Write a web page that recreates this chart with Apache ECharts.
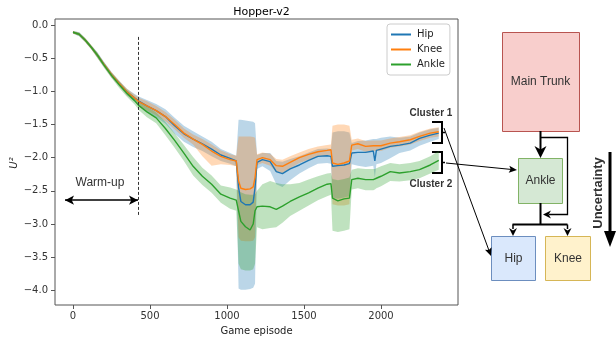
<!DOCTYPE html>
<html><head><meta charset="utf-8">
<script src="https://cdn.jsdelivr.net/npm/echarts@6/dist/echarts.min.js"></script>
<style>html,body{margin:0;padding:0;background:#fff}#c{width:616px;height:343px}</style>
</head><body><div id="c"></div>
<script>
// ---- data ----
const episodes = [0,40,80,120,160,200,250,300,350,400,
  430,480,540,600,660,720,780,840,900,960,
  1020,1060,1075,1090,1120,1150,1170,1182,1195,1230,
  1280,1320,1360,1410,1470,1530,1590,1650,1675,1685,
  1720,1760,1795,1810,1850,1900,1950,1960,1970,2000,
  2060,2120,2190,2250,2320,2375];

const hipMean = [-0.11,-0.14,-0.23,-0.34,-0.46,-0.59,-0.75,-0.88,-1.01,-1.10,
  -1.15,-1.22,-1.29,-1.38,-1.52,-1.64,-1.72,-1.79,-1.87,-1.96,
  -2.01,-2.05,-2.45,-2.66,-2.71,-2.71,-2.67,-2.45,-2.07,-2.03,
  -2.06,-2.21,-2.24,-2.17,-2.11,-2.04,-1.98,-1.97,-1.98,-2.13,
  -2.12,-2.11,-2.09,-1.93,-1.92,-1.92,-1.90,-2.05,-1.89,-1.87,
  -1.83,-1.81,-1.78,-1.71,-1.66,-1.63];
const hipUpper = [-0.09,-0.11,-0.20,-0.31,-0.42,-0.55,-0.71,-0.84,-0.96,-1.04,
  -1.08,-1.13,-1.19,-1.27,-1.40,-1.52,-1.60,-1.68,-1.76,-1.87,
  -1.93,-1.97,-1.43,-1.43,-1.44,-1.45,-1.46,-1.48,-1.96,-1.93,
  -1.93,-2.05,-2.06,-2.02,-1.98,-1.92,-1.87,-1.86,-1.87,-1.62,
  -1.60,-1.60,-1.62,-1.78,-1.75,-1.74,-1.72,-1.72,-1.72,-1.70,
  -1.68,-1.70,-1.68,-1.62,-1.57,-1.55];
const hipLower = [-0.13,-0.17,-0.26,-0.37,-0.50,-0.63,-0.79,-0.92,-1.06,-1.16,
  -1.22,-1.31,-1.39,-1.49,-1.64,-1.76,-1.84,-1.90,-1.98,-2.05,
  -2.09,-2.13,-3.97,-3.99,-3.99,-3.98,-3.96,-3.90,-2.17,-2.13,
  -2.20,-2.40,-2.44,-2.34,-2.24,-2.16,-2.09,-2.08,-2.09,-2.60,
  -2.62,-2.60,-2.58,-2.10,-2.12,-2.14,-2.12,-2.30,-2.10,-2.08,
  -2.01,-1.93,-1.89,-1.82,-1.76,-1.72];

const kneeMean = [-0.11,-0.14,-0.23,-0.34,-0.46,-0.59,-0.75,-0.88,-1.01,-1.10,
  -1.16,-1.22,-1.29,-1.38,-1.50,-1.63,-1.72,-1.80,-1.90,-1.98,
  -2.03,-2.05,-2.35,-2.46,-2.48,-2.47,-2.44,-2.30,-2.03,-2.00,
  -2.03,-2.12,-2.13,-2.07,-2.00,-1.95,-1.91,-1.89,-1.88,-2.08,
  -2.10,-2.08,-2.05,-1.81,-1.79,-1.83,-1.82,-1.82,-1.82,-1.82,
  -1.78,-1.76,-1.73,-1.68,-1.63,-1.61];
const kneeUpper = [-0.09,-0.12,-0.20,-0.31,-0.43,-0.56,-0.71,-0.84,-0.96,-1.05,
  -1.10,-1.15,-1.22,-1.31,-1.43,-1.56,-1.65,-1.72,-1.80,-1.89,
  -1.95,-1.97,-1.68,-1.68,-1.68,-1.68,-1.69,-1.70,-1.95,-1.92,
  -1.94,-2.02,-2.03,-1.98,-1.92,-1.87,-1.83,-1.81,-1.80,-1.52,
  -1.50,-1.50,-1.52,-1.73,-1.71,-1.75,-1.74,-1.74,-1.74,-1.74,
  -1.71,-1.69,-1.66,-1.61,-1.56,-1.54];
const kneeLower = [-0.13,-0.16,-0.26,-0.37,-0.50,-0.63,-0.79,-0.92,-1.06,-1.15,
  -1.22,-1.29,-1.36,-1.45,-1.57,-1.70,-1.80,-1.98,-2.12,-2.10,
  -2.11,-2.13,-3.20,-3.25,-3.26,-3.26,-3.25,-3.20,-2.11,-2.08,
  -2.12,-2.22,-2.23,-2.16,-2.08,-2.03,-1.99,-1.97,-1.96,-2.70,
  -2.72,-2.72,-2.70,-1.89,-1.87,-1.91,-1.90,-1.90,-1.90,-1.90,
  -1.85,-1.83,-1.80,-1.75,-1.70,-1.68];

const ankleMean = [-0.11,-0.14,-0.23,-0.34,-0.46,-0.60,-0.76,-0.90,-1.03,-1.14,
  -1.22,-1.31,-1.40,-1.56,-1.74,-1.93,-2.13,-2.28,-2.40,-2.55,
  -2.61,-2.64,-2.80,-2.96,-3.04,-3.09,-3.00,-2.80,-2.74,-2.73,
  -2.74,-2.78,-2.73,-2.66,-2.59,-2.53,-2.46,-2.40,-2.39,-2.61,
  -2.65,-2.62,-2.61,-2.33,-2.31,-2.33,-2.33,-2.32,-2.31,-2.28,
  -2.21,-2.23,-2.21,-2.18,-2.11,-2.04];
const ankleUpper = [-0.09,-0.11,-0.20,-0.31,-0.42,-0.56,-0.72,-0.85,-0.98,-1.08,
  -1.15,-1.23,-1.32,-1.46,-1.63,-1.81,-1.99,-2.15,-2.27,-2.42,
  -2.45,-2.48,-2.50,-2.52,-2.55,-2.56,-2.56,-2.55,-2.50,-2.40,
  -2.35,-2.38,-2.40,-2.40,-2.38,-2.33,-2.28,-2.24,-2.23,-2.32,
  -2.34,-2.32,-2.30,-2.18,-2.16,-2.17,-2.17,-2.17,-2.16,-2.13,
  -2.08,-2.10,-2.08,-2.05,-1.98,-1.90];
const ankleLower = [-0.13,-0.17,-0.26,-0.37,-0.50,-0.64,-0.80,-0.95,-1.08,-1.20,
  -1.29,-1.39,-1.48,-1.66,-1.85,-2.05,-2.27,-2.41,-2.53,-2.68,
  -2.77,-2.80,-3.60,-3.68,-3.70,-3.70,-3.68,-3.60,-3.05,-3.08,
  -3.06,-3.05,-2.98,-2.88,-2.80,-2.72,-2.64,-2.58,-2.56,-3.10,
  -3.12,-3.10,-3.08,-2.48,-2.46,-2.49,-2.49,-2.48,-2.46,-2.43,
  -2.35,-2.36,-2.34,-2.31,-2.24,-2.18];

const seriesNames = ['Hip', 'Knee', 'Ankle'];
const xTicks = [0, 500, 1000, 1500, 2000];
const yTicks = [-4, -3.5, -3, -2.5, -2, -1.5, -1, -0.5, 0];
const warmupEnd = 422;          // episode of the dashed warm-up marker
const warmupStart = -52;        // left end of the warm-up arrow
const warmupArrowY = -2.64;
const warmupLineTop = -0.18, warmupLineBottom = -2.89;

// ---- chart ----
const colors = ['#1f77b4', '#ff7f0e', '#2ca02c'];
const means = [hipMean, kneeMean, ankleMean];
const uppers = [hipUpper, kneeUpper, ankleUpper];
const lowers = [hipLower, kneeLower, ankleLower];

const chart = echarts.init(document.getElementById('c'), null, {renderer: 'canvas'});
const FONT = 'DejaVu Sans';
const DFONT = 'Liberation Sans';
const minus = v => (Math.abs(v) < 1e-9 ? '0.0' : v.toFixed(1).replace('-', '\u2212'));

function bandSeries(i) {
  return {
    name: seriesNames[i] + ' band',
    type: 'custom',
    z: 1,
    clip: true,
    silent: true,
    data: [[episodes[0], means[i][0]]],
    encode: {x: 0, y: 1},
    renderItem: function (params, api) {
      const pts = [];
      for (let k = 0; k < episodes.length; k++) pts.push(api.coord([episodes[k], uppers[i][k]]));
      for (let k = episodes.length - 1; k >= 0; k--) pts.push(api.coord([episodes[k], lowers[i][k]]));
      return {type: 'polygon', shape: {points: pts}, style: {fill: colors[i], opacity: 0.3}};
    }
  };
}

function lineSeries(i) {
  return {
    name: seriesNames[i],
    type: 'line',
    z: 3,
    showSymbol: false,
    symbol: 'none',
    silent: true,
    data: episodes.map((x, k) => [x, means[i][k]]),
    lineStyle: {width: 1.4, color: colors[i]},
    itemStyle: {color: colors[i]},
    animation: false
  };
}

const series = [bandSeries(0), bandSeries(1), bandSeries(2), lineSeries(0), lineSeries(1), lineSeries(2)];
series[3].markLine = {
  silent: true, animation: false, symbol: 'none',
  label: {show: false},
  lineStyle: {type: [3, 2], color: '#333', width: 1},
  data: [[{coord: [warmupEnd, warmupLineTop]}, {coord: [warmupEnd, warmupLineBottom]}]]
};
series[4].markLine = {
  silent: true, animation: false, symbol: ['arrow', 'arrow'], symbolSize: [7, 9],
  label: {show: false},
  lineStyle: {type: 'solid', color: '#000', width: 1.5},
  data: [[{coord: [warmupStart, warmupArrowY]}, {coord: [warmupEnd, warmupArrowY]}]]
};

// arrowhead helper for the diagram
function head(tx, ty, dx, dy, len, hw, notch) {
  const px = -dy, py = dx;
  const bx = tx - dx * len, by = ty - dy * len;
  const nx = tx - dx * len * (notch || 1), ny = ty - dy * len * (notch || 1);
  return {type: 'polygon', shape: {points: [[tx, ty], [bx + px * hw, by + py * hw], [nx, ny], [bx - px * hw, by - py * hw]]},
    style: {fill: '#000'}};
}
function seg(pts, w) {
  return {type: 'polyline', shape: {points: pts}, style: {stroke: '#000', lineWidth: w, fill: null}};
}
function box(x, y, w, h, fill, stroke) {
  return {type: 'rect', shape: {x: x + 0.5, y: y + 0.5, width: w, height: h}, style: {fill: fill, stroke: stroke, lineWidth: 1}};
}
function label(x, y, t, font, rot) {
  return {type: 'text', x: x, y: y, rotation: rot || 0,
    style: {text: t, font: font, fill: '#333', align: 'center', verticalAlign: 'middle'}};
}
function unit(dx, dy) { const l = Math.hypot(dx, dy); return [dx / l, dy / l]; }

const c1 = unit(491 - 444, 256 - 128);
const c2 = unit(517 - 446, 170 - 163);

const graphics = [
  box(502, 32, 77, 99, '#f8cecc', '#b85450'),
  label(540.5, 82, 'Main Trunk', '12px ' + DFONT),
  box(518, 158, 44, 45, '#d5e8d4', '#82b366'),
  label(540.5, 181, 'Ankle', '12px ' + DFONT),
  box(491, 236, 44, 44, '#dae8fc', '#6c8ebf'),
  label(513.5, 258.5, 'Hip', '12px ' + DFONT),
  box(545, 236, 45, 44, '#fff2cc', '#d6b656'),
  label(568, 258.5, 'Knee', '12px ' + DFONT),
  // main trunk -> ankle
  seg([[540.5, 131], [540.5, 150]], 2),
  head(540.5, 158, 0, 1, 12, 6, 0.7),
  // bypass
  seg([[540.5, 137.5], [567.5, 137.5], [567.5, 214.5], [549, 214.5]], 1.3),
  head(543, 214.5, -1, 0, 8, 4, 0.7),
  // ankle -> children
  seg([[540.5, 203], [540.5, 224.5]], 2),
  seg([[512.5, 224.5], [567.5, 224.5]], 2),
  seg([[513, 224.5], [513, 229]], 1.5),
  seg([[567.5, 224.5], [567.5, 229]], 1.5),
  head(513, 236, 0, 1, 8, 4, 0.7),
  head(567.5, 236, 0, 1, 8, 4, 0.7),
  // uncertainty arrow
  seg([[610, 152], [610, 234]], 3),
  head(610, 247, 0, 1, 16, 6, 1),
  label(598, 193, 'Uncertainty', 'bold 13px ' + DFONT, Math.PI / 2),
  // cluster brackets
  seg([[432, 122], [442, 122], [442, 143], [432, 143]], 2),
  seg([[442, 132.5], [445, 132.5]], 1.5),
  seg([[432, 152], [442, 152], [442, 173], [432, 173]], 2),
  seg([[442, 162.5], [445, 162.5]], 1.5),
  label(431, 113, 'Cluster 1', 'bold 10px ' + DFONT),
  label(431, 184, 'Cluster 2', 'bold 10px ' + DFONT),
  // cluster arrows
  seg([[444, 128], [491 - c1[0] * 6, 256 - c1[1] * 6]], 1),
  head(491, 256, c1[0], c1[1], 8, 3.5, 0.8),
  seg([[446, 163], [517 - c2[0] * 6, 170 - c2[1] * 6]], 1),
  head(517, 170, c2[0], c2[1], 8, 3.5, 0.8),
  // warm-up label, y-axis label
  label(100, 183, 'Warm-up', '12px ' + DFONT),
  {type: 'text', x: 14, y: 163, rotation: Math.PI / 2,
    style: {text: 'U²', font: 'italic 10px ' + FONT, fill: '#222', align: 'center', verticalAlign: 'middle'}}
];

chart.setOption({
  animation: false,
  backgroundColor: '#fff',
  title: {text: 'Hopper-v2', left: 256.5, top: 2, textAlign: 'center',
    textStyle: {fontFamily: FONT, fontSize: 11, fontWeight: 'normal', color: '#000'}},
  grid: {left: 55, top: 19, right: 158, bottom: 38, show: true, borderColor: '#555', borderWidth: 1, backgroundColor: 'transparent'},
  legend: {
    data: seriesNames, orient: 'vertical', left: 387, top: 24,
    icon: 'rect', itemWidth: 20, itemHeight: 2, itemGap: 0,
    padding: [3, 5, 3, 4],
    borderColor: '#ccc', borderWidth: 1, borderRadius: 3, backgroundColor: 'rgba(255,255,255,0.85)',
    textStyle: {fontFamily: FONT, fontSize: 10, color: '#222', lineHeight: 15, padding: [0, 0, 0, 1]},
    selectedMode: false
  },
  xAxis: {
    type: 'value', min: -117, max: 2500,
    name: 'Game episode', nameLocation: 'middle', nameGap: 21,
    nameTextStyle: {fontFamily: FONT, fontSize: 10, color: '#222'},
    axisLine: {show: false, onZero: false},
    axisTick: {show: true, inside: false, length: 4, customValues: xTicks, lineStyle: {color: '#555'}},
    axisLabel: {customValues: xTicks, fontFamily: FONT, fontSize: 10, color: '#333', margin: 6, formatter: v => String(v)},
    splitLine: {show: false}
  },
  yAxis: {
    type: 'value', min: -4.22, max: 0.09,
    axisLine: {show: false, onZero: false},
    axisTick: {show: true, inside: false, length: 4, customValues: yTicks, lineStyle: {color: '#555'}},
    axisLabel: {customValues: yTicks, fontFamily: FONT, fontSize: 10, color: '#333', margin: 7, formatter: minus},
    splitLine: {show: false}
  },
  series: series,
  graphic: graphics
});
</script>
</body></html>
